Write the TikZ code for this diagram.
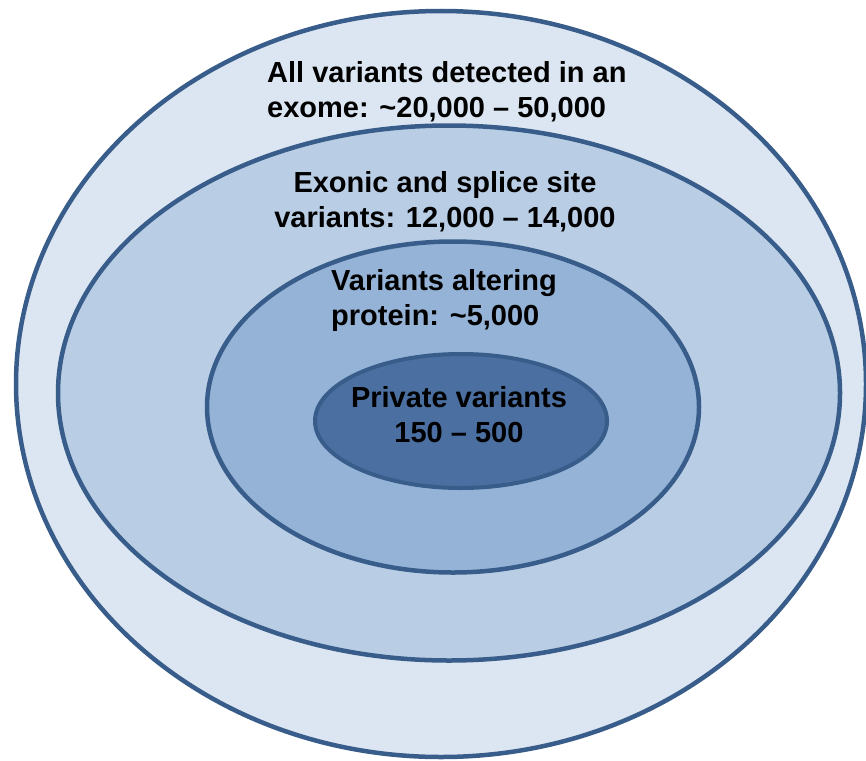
\documentclass[tikz,border=0pt]{standalone}
\usepackage{fontspec}
\setmainfont{Liberation Sans}
\usetikzlibrary{shapes.geometric}

\definecolor{ringline}{HTML}{385D8A}
\definecolor{exomefill}{HTML}{DCE6F2}
\definecolor{exonicfill}{HTML}{B9CDE5}
\definecolor{proteinfill}{HTML}{95B3D7}
\definecolor{privatefill}{HTML}{4B6FA0}

\tikzset{
  ring/.style={ellipse, draw=ringline, line width=4.5pt, inner sep=0pt},
  ringtext/.style={font=\bfseries\fontsize{29}{34.5}\selectfont, inner sep=0pt}
}

\begin{document}
\begin{tikzpicture}[x=1pt,y=-1pt]
\useasboundingbox (0,0) rectangle (866,760);
\clip (0,0) rectangle (866,760);

% Rings
\node[ring, fill=exomefill, minimum width=850pt, minimum height=746pt] (exome) at (441,384) {};
\node[ring, fill=exonicfill, minimum width=782pt, minimum height=535pt] (exonic) at (449,393) {};
\node[ring, fill=proteinfill, minimum width=492pt, minimum height=331pt] (protein) at (453,407) {};
\node[ring, fill=privatefill, line width=4pt, minimum width=292pt, minimum height=134pt] (private) at (461,421) {};

% Labels (base = last line)
\node[ringtext, anchor=base west, align=left] (exome-text) at (267,117) {All variants detected in an\\exome: \textasciitilde20,000 -- 50,000};
\node[ringtext, anchor=base, align=center] (exonic-text) at (445,227) {Exonic and splice site\\variants: 12,000 -- 14,000};
\node[ringtext, anchor=base west, align=left] (protein-text) at (331,325) {Variants altering\\protein: \textasciitilde5,000};
\node[ringtext, anchor=base, align=center] (private-text) at (459,442) {Private variants\\150 -- 500};

\end{tikzpicture}
\end{document}
